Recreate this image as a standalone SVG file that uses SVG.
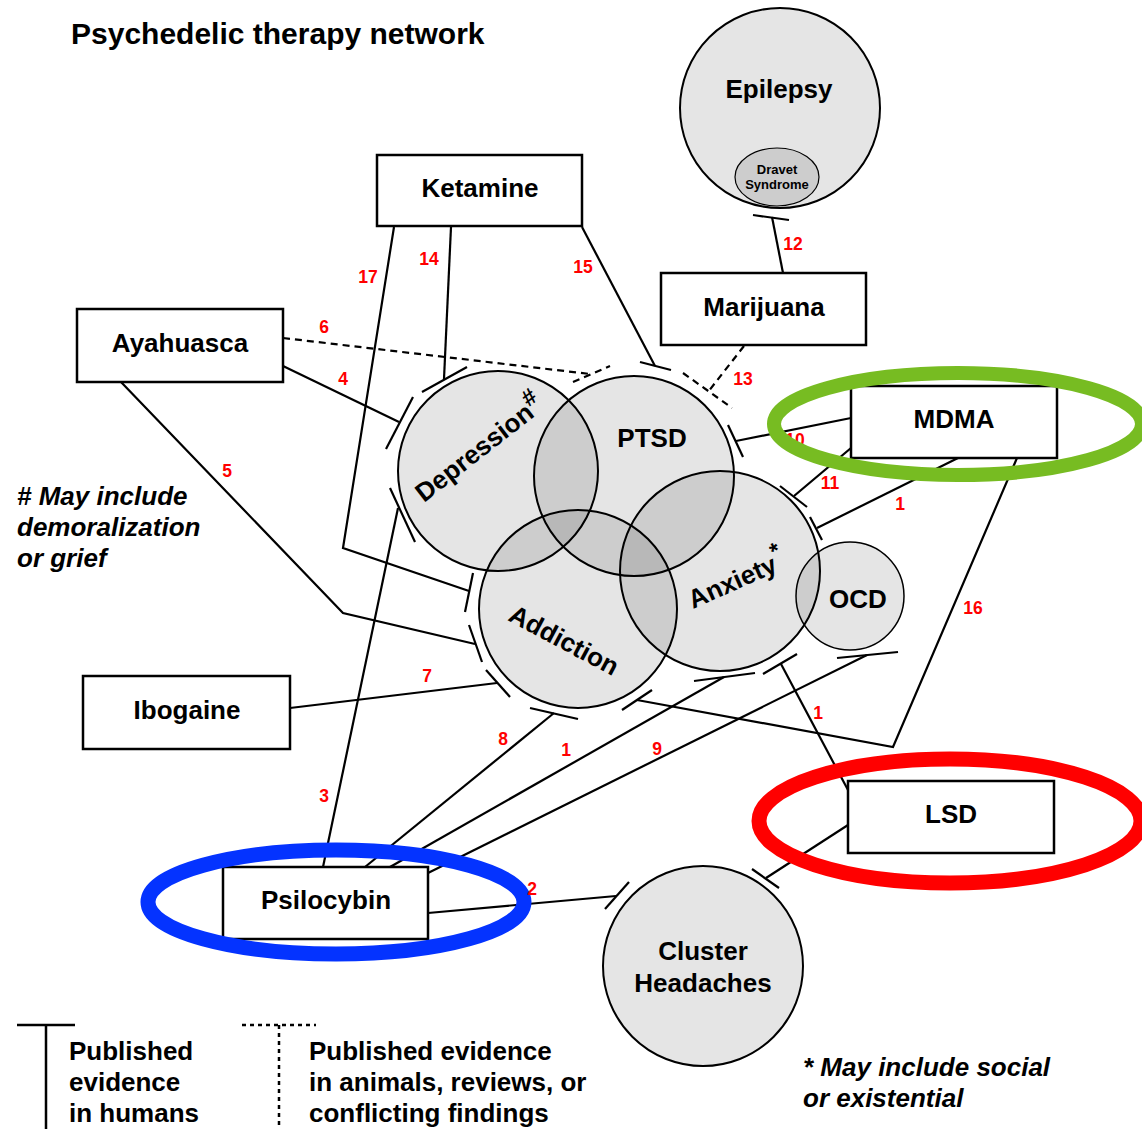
<svg xmlns="http://www.w3.org/2000/svg" width="1142" height="1129" viewBox="0 0 1142 1129">
<style>
.c{fill:none;stroke:#000;stroke-width:2.2}
.d{fill:none;stroke:#000;stroke-width:2.2;stroke-dasharray:7 5}
.box{fill:#fff;stroke:#000;stroke-width:2.5}
.circ{fill:#000;fill-opacity:0.1;stroke:#000;stroke-width:2}
.t{font-family:"Liberation Sans",Arial,sans-serif;font-weight:bold;font-size:26px;fill:#000}
.m{text-anchor:middle}
.n{font-family:"Liberation Sans",Arial,sans-serif;font-weight:bold;font-size:17.5px;fill:#ff0000;text-anchor:middle}
.it{font-family:"Liberation Sans",Arial,sans-serif;font-weight:bold;font-style:italic;font-size:26px;fill:#000}
.ring{fill:none;stroke-width:14}
</style>
<rect width="1142" height="1129" fill="#fff"/>
<text class="t" x="71" y="44" style="font-size:30px">Psychedelic therapy network</text>

<g id="connectors">
  <g id="e14"><path class="c" d="M451,227 L444,379"/><path class="c" d="M422,392 L467,367"/></g>
  <g id="e17"><path class="c" d="M394,227 L343,548 L469,591"/><path class="c" d="M473,573 L465,612"/></g>
  <g id="e15"><path class="c" d="M582,227 L655,366"/><path class="c" d="M640,362 L671,370"/></g>
  <g id="e6"><path class="d" d="M283,338 L590,374"/><path class="d" d="M573,382 L610,366"/></g>
  <g id="e4"><path class="c" d="M283,366 L399,422"/><path class="c" d="M413,397 L386,449"/></g>
  <g id="e5"><path class="c" d="M121,382 L343,613 L475,644"/><path class="c" d="M469,625 L482,662"/></g>
  <g id="e7"><path class="c" d="M290,708 L497,683"/><path class="c" d="M486,670 L510,697"/></g>
  <g id="e3"><path class="c" d="M323,867 L398,508"/><path class="c" d="M390,488 L415,542"/></g>
  <g id="e8"><path class="c" d="M365,867 L554,713"/><path class="c" d="M530,708 L578,719"/></g>
  <g id="e1a"><path class="c" d="M390,867 L724,677"/><path class="c" d="M694,681 L755,673"/></g>
  <g id="e9"><path class="c" d="M428,873 L867,655"/><path class="c" d="M837,658 L898,652"/></g>
  <g id="e2"><path class="c" d="M428,913 L616,896"/><path class="c" d="M605,909 L629,882"/></g>
  <g id="eLSDCH"><path class="c" d="M848,825 L766,878"/><path class="c" d="M752,869 L779,888"/></g>
  <g id="e1b"><path class="c" d="M848,790 L781,664"/><path class="c" d="M763,674 L797,654"/></g>
  <g id="e16"><path class="c" d="M1017,458 L893,747 L637,700"/><path class="c" d="M622,710 L652,690"/></g>
  <g id="e10"><path class="c" d="M851,418 L736,441"/><path class="c" d="M728,425 L743,457"/></g>
  <g id="e11"><path class="c" d="M851,448 L794,496"/><path class="c" d="M780,486 L807,507"/></g>
  <g id="e1c"><path class="c" d="M958,458 L817,528"/><path class="c" d="M810,517 L822,540"/></g>
  <g id="e12"><path class="c" d="M783,273 L772,217"/><path class="c" d="M753,215 L789,220"/></g>
  <g id="e13"><path class="d" d="M744,346 L708,392"/><path class="d" d="M683,373 L732,408"/></g>
  <g id="labels">
    <text class="n" x="368" y="283">17</text>
    <text class="n" x="429" y="265">14</text>
    <text class="n" x="583" y="273">15</text>
    <text class="n" x="324" y="333">6</text>
    <text class="n" x="343" y="385">4</text>
    <text class="n" x="227" y="477">5</text>
    <text class="n" x="743" y="385">13</text>
    <text class="n" x="793" y="250">12</text>
    <text class="n" x="795" y="446">10</text>
    <text class="n" x="830" y="489">11</text>
    <text class="n" x="900" y="510">1</text>
    <text class="n" x="973" y="614">16</text>
    <text class="n" x="818" y="719">1</text>
    <text class="n" x="657" y="755">9</text>
    <text class="n" x="566" y="756">1</text>
    <text class="n" x="503" y="745">8</text>
    <text class="n" x="427" y="682">7</text>
    <text class="n" x="324" y="802">3</text>
  </g>
</g>

<g id="epilepsy">
  <circle class="circ" cx="780" cy="108" r="100"/>
  <text class="t m" x="779" y="98">Epilepsy</text>
  <ellipse cx="777" cy="177" rx="42" ry="29" fill="#000" fill-opacity="0.1" stroke="#000" stroke-width="1.2"/>
  <text class="t m" x="777" y="174" style="font-size:13px">Dravet</text>
  <text class="t m" x="777" y="189" style="font-size:13px">Syndrome</text>
</g>
<g id="depression">
  <circle class="circ" cx="498" cy="471" r="100"/>
  <text class="t" transform="translate(424,503) rotate(-38)">Depression<tspan dy="-11" style="font-size:23px">#</tspan></text>
</g>
<g id="ptsd">
  <circle class="circ" cx="634" cy="476" r="100"/>
  <text class="t m" x="652" y="447">PTSD</text>
</g>
<g id="addiction">
  <circle class="circ" cx="578" cy="609" r="99"/>
  <text class="t" transform="translate(507,620) rotate(28)">Addiction</text>
</g>
<g id="anxiety">
  <circle class="circ" cx="720" cy="571" r="100"/>
  <text class="t" transform="translate(693,609) rotate(-24)">Anxiety<tspan dy="-12" style="font-size:23px">*</tspan></text>
</g>
<g id="ocd">
  <circle class="circ" cx="850" cy="596" r="54" style="stroke-width:1.5"/>
  <text class="t m" x="858" y="608">OCD</text>
</g>
<g id="cluster">
  <circle class="circ" cx="703" cy="966" r="100"/>
  <text class="t m" x="703" y="960">Cluster</text>
  <text class="t m" x="703" y="992">Headaches</text>
</g>

<g id="ketamine"><rect class="box" x="377" y="155" width="205" height="71"/><text class="t m" x="480" y="197">Ketamine</text></g>
<g id="marijuana"><rect class="box" x="661" y="273" width="205" height="72"/><text class="t m" x="764" y="316">Marijuana</text></g>
<g id="ayahuasca"><rect class="box" x="77" y="309" width="206" height="73"/><text class="t m" x="180" y="352">Ayahuasca</text></g>
<g id="mdma"><rect class="box" x="851" y="386" width="206" height="72"/><text class="t m" x="954" y="428">MDMA</text></g>
<g id="ibogaine"><rect class="box" x="83" y="676" width="207" height="73"/><text class="t m" x="187" y="719">Ibogaine</text></g>
<g id="psilocybin"><rect class="box" x="223" y="867" width="205" height="72"/><text class="t m" x="326" y="909">Psilocybin</text></g>
<g id="lsd"><rect class="box" x="848" y="781" width="206" height="72"/><text class="t m" x="951" y="823">LSD</text></g>

<g id="highlights">
  <ellipse class="ring" cx="958" cy="424" rx="184" ry="51" stroke="#77bc22"/>
  <ellipse class="ring" cx="950" cy="821" rx="191" ry="62" stroke="#ff0000" style="stroke-width:15"/>
  <ellipse class="ring" cx="336" cy="902" rx="188" ry="52" stroke="#0433ff" style="stroke-width:15"/>
</g>
<text class="n" x="532" y="895">2</text>

<g id="notes">
  <text class="it" x="17" y="505"># May include</text>
  <text class="it" x="17" y="536">demoralization</text>
  <text class="it" x="17" y="567">or grief</text>
  <text class="it" x="803" y="1076">* May include social</text>
  <text class="it" x="803" y="1107">or existential</text>
</g>

<g id="legend">
  <path d="M17,1025 L75,1025 M46,1025 L46,1129" fill="none" stroke="#000" stroke-width="2.5"/>
  <path d="M242,1025 L316,1025 M279,1025 L279,1129" fill="none" stroke="#000" stroke-width="2.5" stroke-dasharray="4 4"/>
  <text class="t" x="69" y="1060">Published</text>
  <text class="t" x="69" y="1091">evidence</text>
  <text class="t" x="69" y="1122">in humans</text>
  <text class="t" x="309" y="1060">Published evidence</text>
  <text class="t" x="309" y="1091">in animals, reviews, or</text>
  <text class="t" x="309" y="1122">conflicting findings</text>
</g>
</svg>
